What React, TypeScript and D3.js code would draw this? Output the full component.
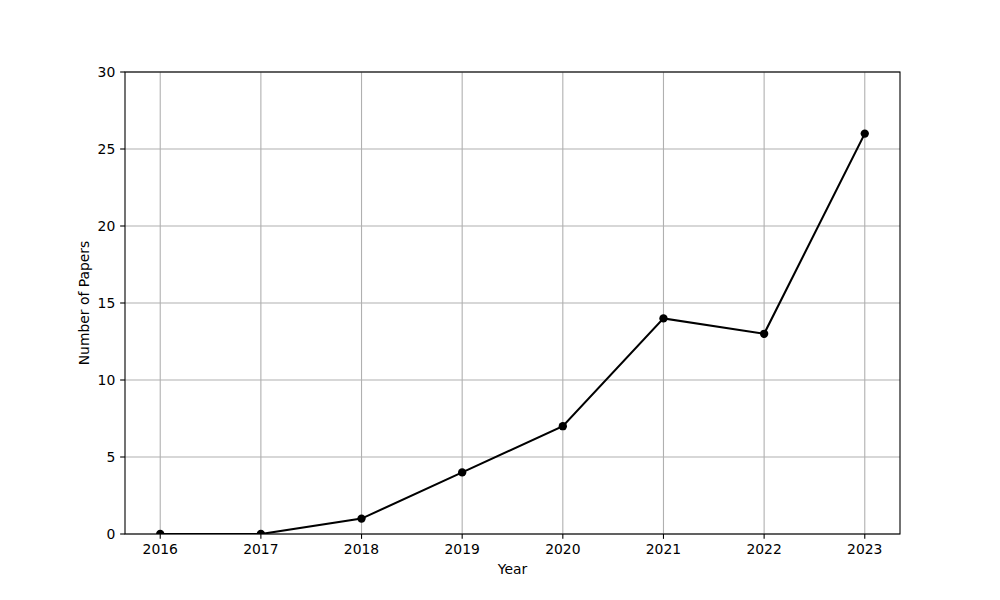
import React from "react";
import * as d3 from "d3";

const years = [2016, 2017, 2018, 2019, 2020, 2021, 2022, 2023];
const papers = [0, 0, 1, 4, 7, 14, 13, 26];
const yTicks = [0, 5, 10, 15, 20, 25, 30];

export default function App() {
  const W = 1000, H = 600;
  const L = 125, R = 900, T = 72, B = 534;
  const x = d3.scaleLinear().domain([2015.65, 2023.35]).range([L, R]);
  const y = d3.scaleLinear().domain([0, 30]).range([B, T]);
  const line = d3.line<number>().x((_, i) => x(years[i])).y((d) => y(d));
  const fs = 13.9;
  const font = "DejaVu Sans, sans-serif";
  const tick = 4.86;
  return (
    <svg width={W} height={H} style={{ position: "absolute", left: 0, top: 0 }} fontFamily={font}>
      <defs>
        <clipPath id="plotclip">
          <rect x={L} y={T} width={R - L} height={B - T} />
        </clipPath>
      </defs>
      <rect x={0} y={0} width={W} height={H} fill="#fff" />
      {years.map((yr) => (
        <line key={"gx" + yr} x1={x(yr)} x2={x(yr)} y1={T} y2={B} stroke="#b0b0b0" strokeWidth={1.1} />
      ))}
      {yTicks.map((v) => (
        <line key={"gy" + v} x1={L} x2={R} y1={y(v)} y2={y(v)} stroke="#b0b0b0" strokeWidth={1.1} />
      ))}
      <g clipPath="url(#plotclip)">
        <path d={line(papers) || ""} fill="none" stroke="#000" strokeWidth={2.08} />
        {papers.map((v, i) => (
          <circle key={"p" + i} cx={x(years[i])} cy={y(v)} r={4.17} fill="#000" />
        ))}
      </g>
      <rect x={L} y={T} width={R - L} height={B - T} fill="none" stroke="#000" strokeWidth={1.1} />
      {years.map((yr) => (
        <g key={"tx" + yr}>
          <line x1={x(yr)} x2={x(yr)} y1={B} y2={B + tick} stroke="#000" strokeWidth={1.1} />
          <text x={x(yr)} y={B + tick + 4.86} dy="0.76em" textAnchor="middle" fontSize={fs} fill="#000">
            {yr}
          </text>
        </g>
      ))}
      {yTicks.map((v) => (
        <g key={"ty" + v}>
          <line x1={L - tick} x2={L} y1={y(v)} y2={y(v)} stroke="#000" strokeWidth={1.1} />
          <text x={L - tick - 4.86} y={y(v)} dy="0.35em" textAnchor="end" fontSize={fs} fill="#000">
            {v}
          </text>
        </g>
      ))}
      <text x={(L + R) / 2} y={574} textAnchor="middle" fontSize={fs} fill="#000">Year</text>
      <text transform={`translate(89,${(T + B) / 2}) rotate(-90)`} textAnchor="middle" fontSize={fs} fill="#000">
        Number of Papers
      </text>
    </svg>
  );
}
